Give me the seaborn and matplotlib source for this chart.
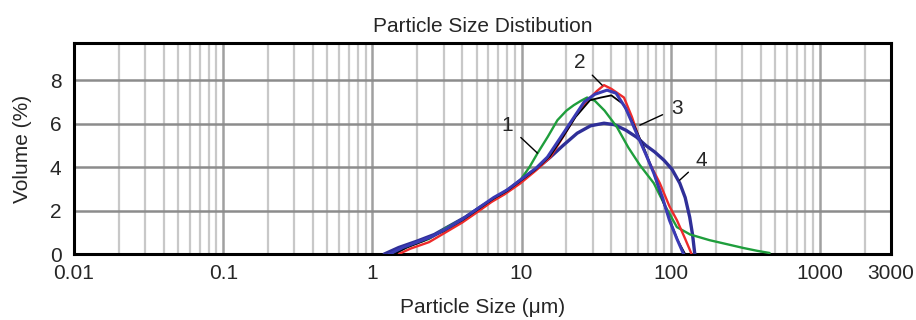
import numpy as np
import pandas as pd
import matplotlib
matplotlib.use("Agg")
import matplotlib.pyplot as plt
import seaborn as sns
from matplotlib.ticker import FixedLocator, NullFormatter, LogLocator

# curve 1 (green)
x1 = [1.3, 1.5, 1.8, 2.4, 3.1, 4.0, 5.1, 6.3, 7.7, 9.8, 11.3, 12.8, 15.0, 17.4, 20, 22.4, 25, 27.5,
      31, 36, 43.6, 52, 62, 77, 92, 110, 135, 182, 240, 307, 380, 460]
y1 = [0, 0.15, 0.4, 0.7, 1.2, 1.6, 2.1, 2.5, 2.85, 3.4, 4.0, 4.64, 5.4, 6.16, 6.6, 6.85, 7.05, 7.2,
      7.05, 6.6, 5.84, 4.9, 4.1, 3.26, 2.2, 1.24, 0.9, 0.64, 0.45, 0.28, 0.15, 0.05]
# curve 2 (red)
x2 = [1.5, 1.8, 2.4, 3.1, 4.0, 5.1, 6.3, 7.7, 9.8, 12.5, 15.6, 19, 23.6, 28, 32, 35.7, 40, 48.6,
      55, 62, 72, 84.5, 98, 110, 125, 138]
y2 = [0, 0.25, 0.55, 1.0, 1.45, 1.95, 2.4, 2.75, 3.25, 3.85, 4.46, 5.4, 6.48, 7.1, 7.5, 7.77, 7.6, 7.2,
      6.3, 5.24, 4.2, 3.26, 2.2, 1.56, 0.7, 0]
# black sample (mostly hidden under the others)
xk = [1.4, 1.7, 2.2, 3.0, 4.0, 5.1, 6.5, 8, 10, 12.5, 15.5, 19, 23, 28.8, 34, 40, 48, 57, 66, 77,
      88, 100, 112, 125]
yk = [0, 0.3, 0.6, 1.05, 1.55, 2.05, 2.55, 2.9, 3.4, 3.9, 4.5, 5.4, 6.3, 7.08, 7.2, 7.3, 6.9, 5.9,
      4.9, 3.72, 2.5, 1.45, 0.6, 0]
# curve 3 (blue, narrow)
x3 = [1.3, 1.6, 2.0, 2.5, 3.2, 4.0, 5.1, 6.5, 8, 10, 12.5, 14.9, 18, 22, 26.3, 31, 37.4, 43, 50, 59,
      68, 77, 88, 98, 110, 122]
y3 = [0, 0.3, 0.55, 0.8, 1.2, 1.6, 2.1, 2.6, 2.95, 3.45, 3.95, 4.46, 5.3, 6.2, 7.0, 7.35, 7.54, 7.4,
      6.7, 5.56, 4.6, 3.72, 2.6, 1.56, 0.7, 0]
# curve 4 (blue, wide)
x4 = [1.2, 1.5, 2.0, 2.6, 3.3, 4.2, 5.4, 6.8, 8.5, 10.5, 13, 15.6, 19, 23.6, 29, 35.7, 42, 50, 59,
      68, 78, 90, 102, 115, 125, 134, 140, 145]
y4 = [0, 0.3, 0.6, 0.9, 1.3, 1.7, 2.2, 2.6, 3.05, 3.54, 4.0, 4.46, 5.0, 5.56, 5.9, 6.02, 5.95, 5.7,
      5.38, 5.0, 4.7, 4.32, 3.9, 3.26, 2.6, 1.7, 0.9, 0]

xticks = [0.01, 0.1, 1, 10, 100, 1000, 3000]
xtick_labels = ["0.01", "0.1", "1", "10", "100", "1000", "3000"]
yticks = [0, 2, 4, 6, 8]

sns.set_style("white")
plt.rcParams['font.family'] = ['Liberation Sans', 'DejaVu Sans']

fig = plt.figure(figsize=(9.16, 3.2), dpi=100)
ax = fig.add_axes([0.0808, 0.206, 0.892, 0.659])

curves = [
    (x4, y4, "#2f2f98", 2.4),
    (x1, y1, "#1f9e3c", 1.7),
    (x2, y2, "#ee2b2b", 1.7),
    (xk, yk, "black", 1.3),
    (x3, y3, "#3a3ab4", 2.2),
]
for xs, ys, col, lw in curves:
    df = pd.DataFrame({"size": xs, "vol": ys})
    sns.lineplot(data=df, x="size", y="vol", ax=ax, color=col, lw=lw, sort=False, zorder=3)

ax.set_xscale("log")
ax.set_xlim(0.01, 3000)
ax.set_ylim(0, 9.7)

ax.xaxis.set_major_locator(FixedLocator(xticks))
ax.set_xticklabels(xtick_labels)
ax.xaxis.set_minor_locator(LogLocator(base=10, subs=np.arange(2, 10)))
ax.xaxis.set_minor_formatter(NullFormatter())
ax.set_yticks(yticks)

ax.grid(which="minor", axis="x", color="#c8c8c8", lw=1.6, zorder=0)
ax.grid(which="major", axis="x", color="#a0a0a0", lw=1.8, zorder=0)
ax.grid(which="major", axis="y", color="#8c8c8c", lw=1.8, zorder=0)
ax.set_axisbelow(True)

for sp in ax.spines.values():
    sp.set_visible(True)
    sp.set_color("black")
    sp.set_linewidth(2.2)

ax.tick_params(axis="both", which="both", length=0, labelsize=15)
ax.tick_params(axis="x", pad=7)
ax.tick_params(axis="y", pad=9)
ax.set_title("Particle Size Distibution", fontsize=15, pad=8)
ax.set_xlabel("Particle Size (\u03bcm)", fontsize=15, labelpad=11)
ax.set_ylabel("Volume (%)", fontsize=15, labelpad=13)

# curve number callouts
callouts = [("1", 8.07, 5.93, 12.8, 4.64), ("2", 24.4, 8.83, 34.7, 7.77),
            ("3", 109.7, 6.71, 62.1, 5.93), ("4", 161, 4.32, 114.8, 3.4)]
for lab, tx, ty, px, py in callouts:
    ax.annotate(lab, xy=(px, py), xytext=(tx, ty), fontsize=15, ha="center", va="center",
                arrowprops=dict(arrowstyle="-", color="black", lw=1.0, shrinkA=4, shrinkB=0),
                zorder=5)

fig.savefig("out.png", dpi=100)
